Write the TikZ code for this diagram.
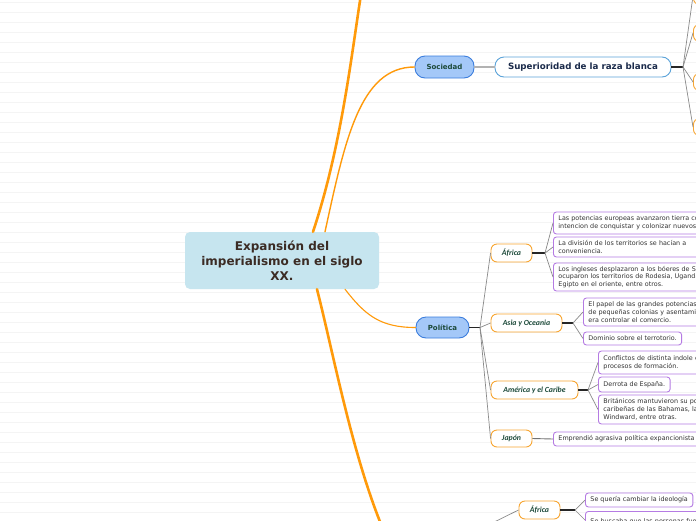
\documentclass[tikz,border=0pt]{standalone}
\usepackage{fontspec}
\newfontfamily\dv{DejaVu Sans}
\newfontfamily\carl{Carlito}
\definecolor{cfill}{HTML}{C6E5EF}
\definecolor{ctext}{HTML}{3B2B24}
\definecolor{bfill}{HTML}{A4C8F8}
\definecolor{bdraw}{HTML}{3B7DDD}
\definecolor{sdraw}{HTML}{5BA3D9}
\definecolor{navy}{HTML}{1B2B4B}
\definecolor{dgreen}{HTML}{1D4A3A}
\definecolor{orB}{HTML}{F7A531}
\definecolor{orL}{HTML}{FF9A0A}
\definecolor{purB}{HTML}{B57BE3}
\definecolor{ltext}{HTML}{333333}
\definecolor{gline}{HTML}{8A8A8A}
\definecolor{bgl}{HTML}{F4F4F4}
\usetikzlibrary{calc}
\begin{document}
\begin{tikzpicture}[x=1pt,y=-1pt,
  central/.style={fill=cfill, rounded corners=5pt, minimum width=194pt, minimum height=57pt, inner sep=0pt, align=center, font=\dv\bfseries\fontsize{12}{15}\selectfont, text=ctext},
  mainnode/.style={draw=bdraw, fill=bfill, line width=0.9pt, rounded corners=10pt, font=\dv\bfseries\fontsize{7}{8}\selectfont, text=dgreen, inner sep=0pt},
  subnode/.style={draw=sdraw, fill=white, line width=0.9pt, rounded corners=9pt, font=\dv\bfseries\fontsize{8.7}{10}\selectfont, text=navy, inner sep=0pt},
  catnode/.style={draw=orB, fill=white, line width=0.9pt, rounded corners=6pt, font=\carl\bfseries\itshape\fontsize{7.8}{9}\selectfont, text=dgreen, inner sep=0pt, minimum height=18pt},
  leaf/.style={draw=purB, fill=white, line width=0.9pt, rounded corners=3pt, font=\dv\fontsize{6.4}{7.8}\selectfont, text=ltext, align=left, inner xsep=5pt, inner ysep=0pt, anchor=west},
  longleaf/.style={leaf, text width=250pt},
  trunk/.style={draw=orL, line cap=round},
  twig/.style={draw=gline, line width=0.7pt},
  stub/.style={draw=black!85, line width=1.1pt}
]
\useasboundingbox (0,0) rectangle (696,520);
\fill[white] (0,0) rectangle (696,520);
\foreach \yy in {2,12,...,512} \draw[bgl, line width=0.7pt] (0,\yy) -- (696,\yy);
\clip (0,0) rectangle (696,520);

% central
\node[central] (ctr) at (282,260.5) {Expansión del\\imperialismo en el siglo\\XX.};
\coordinate (offtop) at (362,-12);
\coordinate (offbot) at (390,545);

% main nodes
\node[mainnode, minimum width=59pt, minimum height=22pt] (soc) at (444.5,67) {Sociedad};
\node[mainnode, minimum width=53pt, minimum height=21pt] (pol) at (442.5,327.5) {Política};

% trunks
\draw[trunk, line width=2.6pt] ([xshift=31pt]ctr.north) .. controls (342,145) and (352,50) .. (offtop);
\draw[trunk, line width=1.4pt] ([xshift=43pt]ctr.north) .. controls (345,140) and (360,67) .. (soc.west);
\draw[trunk, line width=2.6pt] ([xshift=35pt]ctr.south) .. controls (335,360) and (355,470) .. (offbot);
\draw[trunk, line width=1.1pt] ([xshift=63pt]ctr.south) .. controls (365,315) and (380,327.5) .. (pol.west);

% Sociedad branch
\node[subnode, minimum width=176pt, minimum height=20pt] (sup) at (583,67) {Superioridad de la raza blanca};
\draw[draw=black!30, line width=1.4pt] (soc.east) -- (sup.west);
\coordinate (sf) at (683,67);
\draw[stub] (sup.east) -- (sf);
\node[catnode, minimum width=50pt, minimum height=17pt, anchor=west] (r1) at (693,-4) {};
\node[catnode, minimum width=50pt, minimum height=17pt, anchor=west] (r2) at (693,33) {};
\node[catnode, minimum width=50pt, minimum height=17pt, anchor=west] (r3) at (693,82) {};
\node[catnode, minimum width=50pt, minimum height=17pt, anchor=west] (r4) at (693,127) {};
\foreach \r in {r1,r2,r3,r4} \draw[twig] (sf) -- (\r.west);

% Politica branch
\coordinate (pf) at (480,327.5);
\draw[stub] (pol.east) -- (pf);
\node[catnode, minimum width=41pt] (afr) at (511.5,253) {África};
\node[catnode, minimum width=71pt] (asia) at (526.5,323) {Asia y Oceania};
\node[catnode, minimum width=87pt] (amer) at (534.5,390) {América y el Caribe};
\node[catnode, minimum width=41pt, minimum height=17pt] (jap) at (511.5,438.5) {Japón};
\foreach \c in {afr,asia,amer,jap} \draw[twig] (pf) -- (\c.west);

% Africa leaves
\coordinate (af) at (545,253);
\draw[stub] (afr.east) -- (af);
\node[longleaf, minimum height=22pt] (a1) at (553,223) {Las potencias europeas avanzaron tierra con la\\intencion de conquistar y colonizar nuevos territorios.};
\node[longleaf, minimum height=20pt] (a2) at (553,247) {La división de los territorios se hacían a\\conveniencia.};
\node[longleaf, minimum height=28pt] (a3) at (553,277) {Los ingleses desplazaron a los bóeres de Sudáfrica,\\ocuparon los territorios de Rodesia, Uganda,\\Egipto en el oriente, entre otros.};
\foreach \l in {a1,a2,a3} \draw[twig] (af) -- (\l.west);

% Asia leaves
\coordinate (sf2) at (573,323);
\draw[stub] (asia.east) -- (sf2);
\node[longleaf, minimum height=28pt] (s1) at (583,312) {El papel de las grandes potencias\\de pequeñas colonias y asentamientos\\era controlar el comercio.};
\node[leaf, minimum height=13pt] (s2) at (583,338.5) {Dominio sobre el terrotorio.};
\foreach \l in {s1,s2} \draw[twig] (sf2) -- (\l.west);

% America leaves
\coordinate (mf) at (588,390);
\draw[stub] (amer.east) -- (mf);
\node[longleaf, minimum height=23pt] (m1) at (598,362.5) {Conflictos de distinta indole en sus\\procesos de formación.};
\node[leaf, minimum height=15pt] (m2) at (598,384.5) {Derrota de España.};
\node[longleaf, minimum height=29pt] (m3) at (598,409.5) {Británicos mantuvieron su poder en las islas\\caribeñas de las Bahamas, las\\Windward, entre otras.};
\foreach \l in {m1,m2,m3} \draw[twig] (mf) -- (\l.west);

% Japon leaf
\node[longleaf, minimum height=14pt] (j1) at (553,439) {Emprendió agrasiva política expancionista};
\draw[draw=black!55, line width=0.9pt] (jap.east) -- (j1.west);

% bottom Africa
\coordinate (bsrc) at (478,530);
\node[catnode, minimum width=41pt] (bafr) at (539.5,510) {África};
\draw[twig] (bsrc) -- (bafr.west);
\coordinate (bf) at (575,510);
\draw[stub] (bafr.east) -- (bf);
\node[leaf, minimum height=14pt] (b1) at (585,500) {Se quería cambiar la ideología};
\node[longleaf, minimum height=20pt, anchor=north west, text height=4.6pt, text depth=1.4pt, inner ysep=3.5pt] (b2) at (585,511) {Se buscaba que las personas fueran};
\draw[twig] (bf) -- (b1.west);
\draw[twig] (bf) -- ($(b2.north west)+(0,9)$);
\end{tikzpicture}
\end{document}
